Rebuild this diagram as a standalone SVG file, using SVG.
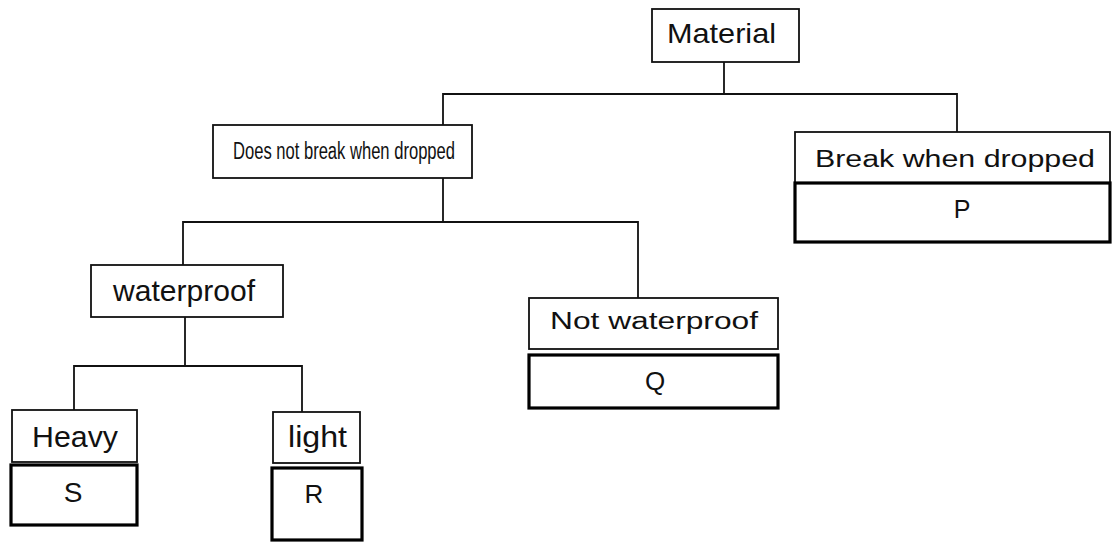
<svg xmlns="http://www.w3.org/2000/svg" width="1113" height="542" viewBox="0 0 1113 542">
<style>
.box{fill:#fff;stroke:#111;stroke-width:1.8}
.res{fill:#fff;stroke:#000;stroke-width:3.2}
.t{font-family:"Liberation Sans",Arial,sans-serif;fill:#111}
.c{fill:none;stroke:#111;stroke-width:1.8}
</style>
<rect width="1113" height="542" fill="#fff"/>
<g id="connectors">
<path class="c" d="M724,62 V95"/>
<path class="c" d="M443,125 V94 H957 V132"/>
<path class="c" d="M443,178 V222"/>
<path class="c" d="M183,265 V222 H638 V298"/>
<path class="c" d="M185,317 V366"/>
<path class="c" d="M74,410 V366 H302 V412"/>
</g>
<g id="material">
<rect class="box" x="652" y="9" width="147" height="53"/>
<text class="t" x="667" y="43" font-size="28" textLength="109" lengthAdjust="spacingAndGlyphs">Material</text>
</g>
<g id="does-not-break">
<rect class="box" x="213" y="125" width="259" height="53"/>
<text class="t" x="233" y="159" font-size="23" textLength="222" lengthAdjust="spacingAndGlyphs">Does not break when dropped</text>
</g>
<g id="break">
<rect class="box" x="795" y="132" width="315" height="51"/>
<text class="t" x="815" y="167" font-size="23" textLength="280" lengthAdjust="spacingAndGlyphs">Break when dropped</text>
</g>
<g id="p">
<rect class="res" x="795" y="183" width="315" height="59"/>
<text class="t" x="962" y="218" font-size="25" text-anchor="middle">P</text>
</g>
<g id="waterproof">
<rect class="box" x="91" y="265" width="192" height="52"/>
<text class="t" x="113" y="301" font-size="29" textLength="142" lengthAdjust="spacingAndGlyphs">waterproof</text>
</g>
<g id="not-waterproof">
<rect class="box" x="529" y="298" width="249" height="51"/>
<text class="t" x="550" y="329" font-size="23" textLength="208" lengthAdjust="spacingAndGlyphs">Not waterproof</text>
</g>
<g id="q">
<rect class="res" x="529" y="355" width="249" height="53"/>
<text class="t" x="655" y="390" font-size="26" text-anchor="middle">Q</text>
</g>
<g id="heavy">
<rect class="box" x="12" y="410" width="125" height="52"/>
<text class="t" x="32" y="447" font-size="30" textLength="86" lengthAdjust="spacingAndGlyphs">Heavy</text>
</g>
<g id="s">
<rect class="res" x="11" y="465" width="126" height="60"/>
<text class="t" x="73" y="502" font-size="28" text-anchor="middle">S</text>
</g>
<g id="light">
<rect class="box" x="273" y="412" width="87" height="51"/>
<text class="t" x="288" y="447" font-size="30" textLength="59" lengthAdjust="spacingAndGlyphs">light</text>
</g>
<g id="r">
<rect class="res" x="272" y="468" width="90" height="72"/>
<text class="t" x="314" y="503" font-size="26" text-anchor="middle">R</text>
</g>
</svg>
